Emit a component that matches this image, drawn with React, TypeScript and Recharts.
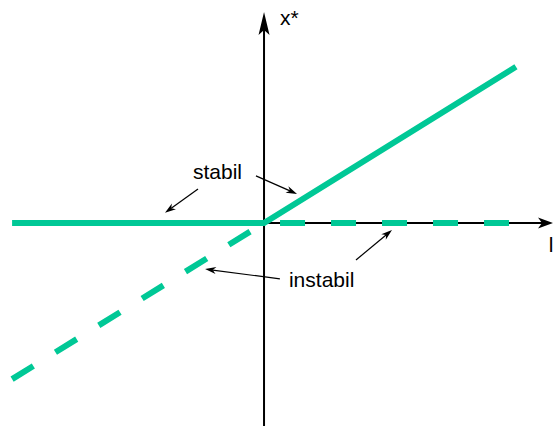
import React from "react";
import { ComposedChart, Line, XAxis, YAxis, ReferenceLine, ReferenceDot } from "recharts";

// bifurcation parameter l and branches of x*
const lValues = [-1, 0, 1];
const stable = [0, 0, 0.62];
const unstableLeft = [-0.62, 0, null];
const unstableRight = [null, 0, 0];

const lDomain = [-1.048, 1.151];
const xDomain = [-0.806, 0.885];

// annotation arrows: [from l, from x*, to l, to x*]
const pointers = [
  [-0.262, 0.135, -0.393, 0.04],
  [-0.032, 0.187, 0.131, 0.115],
  [0.063, -0.222, -0.234, -0.183],
  [0.365, -0.147, 0.508, -0.028],
];

// labels: text, l, x* (anchor at start of text baseline)
const labels: [string, number, number][] = [
  ["stabil", -0.282, 0.175],
  ["instabil", 0.099, -0.254],
  ["x*", 0.063, 0.786],
  ["l", 1.13, -0.115],
];

const axisTop = 0.837;
const axisRight = 1.147;

const GREEN = "#00c896";
const FONT = "'Liberation Sans', Arial, sans-serif";

const data = lValues.map((l, i) => ({
  l,
  stable: stable[i],
  unstableLeft: unstableLeft[i],
  unstableRight: unstableRight[i],
}));

function Pointer(p: any) {
  const { x1, y1, x2, y2 } = p;
  const ang = Math.atan2(y2 - y1, x2 - x1);
  const len = 11;
  const half = 3.5;
  const bx = x2 - len * Math.cos(ang);
  const by = y2 - len * Math.sin(ang);
  const nx = x2 - len * 0.7 * Math.cos(ang);
  const ny = y2 - len * 0.7 * Math.sin(ang);
  const px = -Math.sin(ang) * half;
  const py = Math.cos(ang) * half;
  return (
    <g>
      <line x1={x1} y1={y1} x2={nx} y2={ny} stroke="#000" strokeWidth={1.2} />
      <polygon points={`${x2},${y2} ${bx + px},${by + py} ${nx},${ny} ${bx - px},${by - py}`} fill="#000" />
    </g>
  );
}

const upHead = (p: any) => {
  const { cx, cy } = p;
  return <polygon points={`${cx},${cy} ${cx + 5.5},${cy + 23} ${cx},${cy + 18} ${cx - 5.5},${cy + 23}`} fill="#000" />;
};

const rightHead = (p: any) => {
  const { cx, cy } = p;
  return <polygon points={`${cx},${cy} ${cx - 15},${cy + 5.5} ${cx - 11},${cy} ${cx - 15},${cy - 5.5}`} fill="#000" />;
};

export default function App() {
  return (
    <div style={{ position: "absolute", left: 0, top: 0, background: "#fff" }}>
      <ComposedChart width={554} height={426} data={data} margin={{ top: 0, right: 0, bottom: 0, left: 0 }}>
        <XAxis dataKey="l" type="number" domain={lDomain} hide allowDataOverflow />
        <YAxis type="number" domain={xDomain} hide allowDataOverflow />

        <ReferenceLine segment={[{ x: 0, y: xDomain[0] }, { x: 0, y: axisTop - 0.05 }]} stroke="#000" strokeWidth={2} ifOverflow="visible" />
        <ReferenceLine segment={[{ x: 0, y: 0 }, { x: axisRight - 0.04, y: 0 }]} stroke="#000" strokeWidth={2} ifOverflow="visible" />
        <ReferenceDot x={0} y={axisTop} shape={upHead} ifOverflow="visible" />
        <ReferenceDot x={axisRight} y={0} shape={rightHead} ifOverflow="visible" />

        <Line dataKey="unstableLeft" type="linear" stroke={GREEN} strokeWidth={6} strokeDasharray="25 26" dot={false} activeDot={false} isAnimationActive={false} />
        <Line dataKey="unstableRight" type="linear" stroke={GREEN} strokeWidth={6} strokeDasharray="25 26" strokeDashoffset={35} dot={false} activeDot={false} isAnimationActive={false} />
        <Line dataKey="stable" type="linear" stroke={GREEN} strokeWidth={6} dot={false} activeDot={false} isAnimationActive={false} />

        {pointers.map((a, i) => (
          <ReferenceLine key={"p" + i} segment={[{ x: a[0], y: a[1] }, { x: a[2], y: a[3] }]} shape={Pointer} ifOverflow="visible" />
        ))}
        {labels.map(([t, l, x], i) => (
          <ReferenceDot
            key={"t" + i}
            x={l}
            y={x}
            ifOverflow="visible"
            shape={(p: any) => (
              <text x={p.cx} y={p.cy} fontSize={21} fontFamily={FONT} fill="#000">
                {t}
              </text>
            )}
          />
        ))}
      </ComposedChart>
    </div>
  );
}
